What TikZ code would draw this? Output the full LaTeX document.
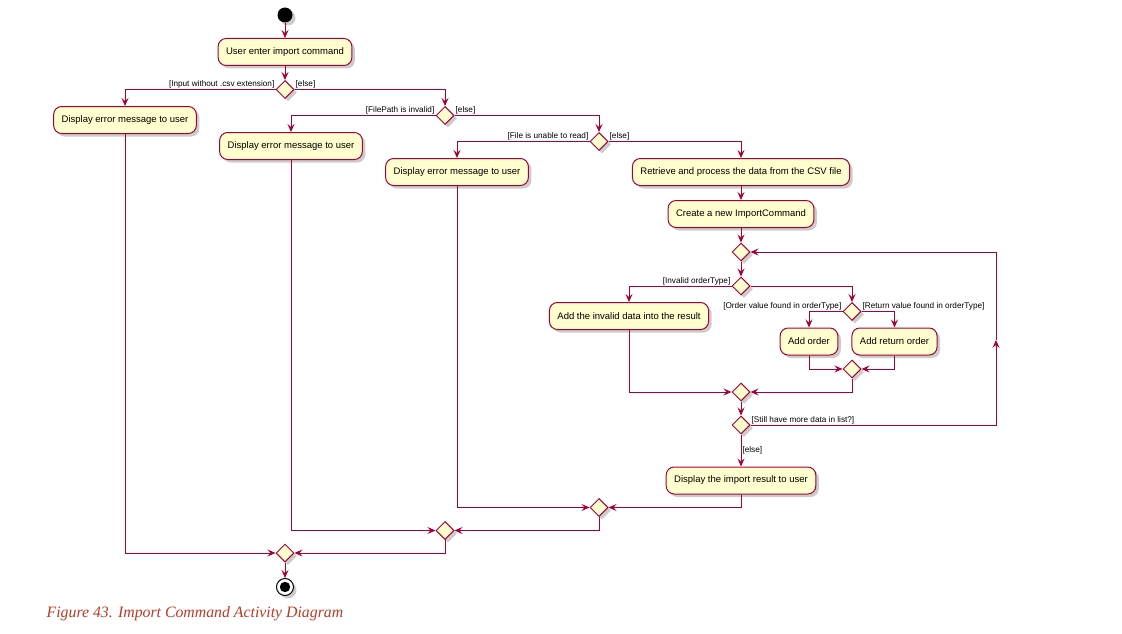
\documentclass[tikz,border=0pt]{standalone}
\usepackage{fontspec}
\setmainfont{Liberation Serif}
\setsansfont{Liberation Sans}
\usetikzlibrary{shapes.geometric,arrows.meta,shadows}
\definecolor{umlred}{HTML}{A80036}
\definecolor{umlfill}{HTML}{FEFECE}
\definecolor{capred}{HTML}{BA3925}
\begin{document}
\begin{tikzpicture}[x=1pt,y=-1pt,
  every node/.style={font=\sffamily\fontsize{9.5}{11}\selectfont},
  umlshadow/.style={drop shadow={shadow xshift=3pt,shadow yshift=-3pt,fill=black,opacity=0.2}},
  act/.style={draw=umlred,fill=umlfill,line width=1pt,rounded corners=8pt,minimum height=27pt,inner xsep=8pt,inner ysep=0pt,umlshadow},
  choice/.style={diamond,draw=umlred,fill=umlfill,line width=1pt,minimum width=18pt,minimum height=18pt,inner sep=0pt,umlshadow},
  guard/.style={font=\sffamily\fontsize{8.2}{9}\selectfont,inner sep=1pt},
  flow/.style={draw=umlred,line width=1pt,-{Stealth[length=8pt,width=7pt,inset=3pt]}}]
\useasboundingbox (0,0) rectangle (1122,634);
\node[circle,fill=black,minimum size=15pt,inner sep=0pt,umlshadow] (start) at (285,15) {};
\node[act] (cmd) at (285,52) {User enter import command};
\node[choice] (d1) at (285,89.5) {};
\node[act] (err1) at (125,120) {Display error message to user};
\node[choice] (d2) at (445,115.5) {};
\node[act] (err2) at (291,146) {Display error message to user};
\node[choice] (d3) at (599,141.5) {};
\node[act] (err3) at (457,172) {Display error message to user};
\node[act] (retrieve) at (741,172) {Retrieve and process the data from the CSV file};
\node[act] (create) at (741,214) {Create a new ImportCommand};
\node[choice] (loopd) at (741,252) {};
\node[choice] (d5) at (741,286) {};
\node[act] (invalid) at (629,316) {Add the invalid data into the result};
\node[choice] (d6) at (852,311.5) {};
\node[act] (addorder) at (809,341.5) {Add order};
\node[act] (addreturn) at (894.5,341.5) {Add return order};
\node[choice] (m7) at (852,369) {};
\node[choice] (m8) at (741,392) {};
\node[choice] (d9) at (741,425) {};
\node[act] (result) at (741,480.5) {Display the import result to user};
\node[choice] (m10) at (599,507.5) {};
\node[choice] (m11) at (445,530.5) {};
\node[choice] (m12) at (285,553) {};
\node[circle,draw=black,fill=white,line width=1pt,minimum size=17pt,inner sep=0pt,umlshadow] (stop) at (285,587) {};
\fill[black] (stop.center) circle (5.2);
\coordinate (loopbot) at (996,425);
\coordinate (loopmid) at (996,340);
\coordinate (looptop) at (996,252);
\node[guard,anchor=south east] (g1) at (d1.west) {[Input without .csv extension]};
\node[guard,anchor=south west] (g2) at (d1.east) {[else]};
\node[guard,anchor=south east] (g3) at (d2.west) {[FilePath is invalid]};
\node[guard,anchor=south west] (g4) at (d2.east) {[else]};
\node[guard,anchor=south east] (g5) at (d3.west) {[File is unable to read]};
\node[guard,anchor=south west] (g6) at (d3.east) {[else]};
\node[guard,anchor=south east] (g7) at (d5.west) {[Invalid orderType]};
\node[guard,anchor=south east] (g8) at (d6.west) {[Order value found in orderType]};
\node[guard,anchor=south west] (g9) at (d6.east) {[Return value found in orderType]};
\node[guard,anchor=south west] (g10) at (d9.east) {[Still have more data in list?]};
\draw[flow] (start) -- (cmd);
\draw[flow] (cmd) -- (d1);
\draw[flow] (d1.west) -| (err1);
\draw[flow] (d1.east) -| (d2);
\draw[flow] (d2.west) -| (err2);
\draw[flow] (d2.east) -| (d3);
\draw[flow] (d3.west) -| (err3);
\draw[flow] (d3.east) -| (retrieve);
\draw[flow] (retrieve) -- (create);
\draw[flow] (create) -- (loopd);
\draw[flow] (loopd) -- (d5);
\draw[flow] (d5.west) -| (invalid);
\draw[flow] (d5.east) -| (d6);
\draw[flow] (d6.west) -| (addorder);
\draw[flow] (d6.east) -| (addreturn);
\draw[flow] (addorder.south) |- (m7.west);
\draw[flow] (addreturn.south) |- (m7.east);
\draw[flow] (invalid.south) |- (m8.west);
\draw[flow] (m7.south) |- (m8.east);
\draw[flow] (m8) -- (d9);
\draw[flow] (d9) -- node[guard,right] (g11) {[else]} (result);
\draw[flow] (d9.east) -- (loopbot) -- (loopmid);
\draw[flow] (loopmid) -- (looptop) -- (loopd.east);
\draw[flow] (err3.south) |- (m10.west);
\draw[flow] (result.south) |- (m10.east);
\draw[flow] (err2.south) |- (m11.west);
\draw[flow] (m10.south) |- (m11.east);
\draw[flow] (err1.south) |- (m12.west);
\draw[flow] (m11.south) |- (m12.east);
\draw[flow] (m12) -- (stop);
\node[anchor=west,inner sep=0pt,font=\rmfamily\itshape\fontsize{15.8}{18}\selectfont,text=capred] (caption) at (46.5,614) {Figure 43. Import Command Activity Diagram};
\end{tikzpicture}
\end{document}
